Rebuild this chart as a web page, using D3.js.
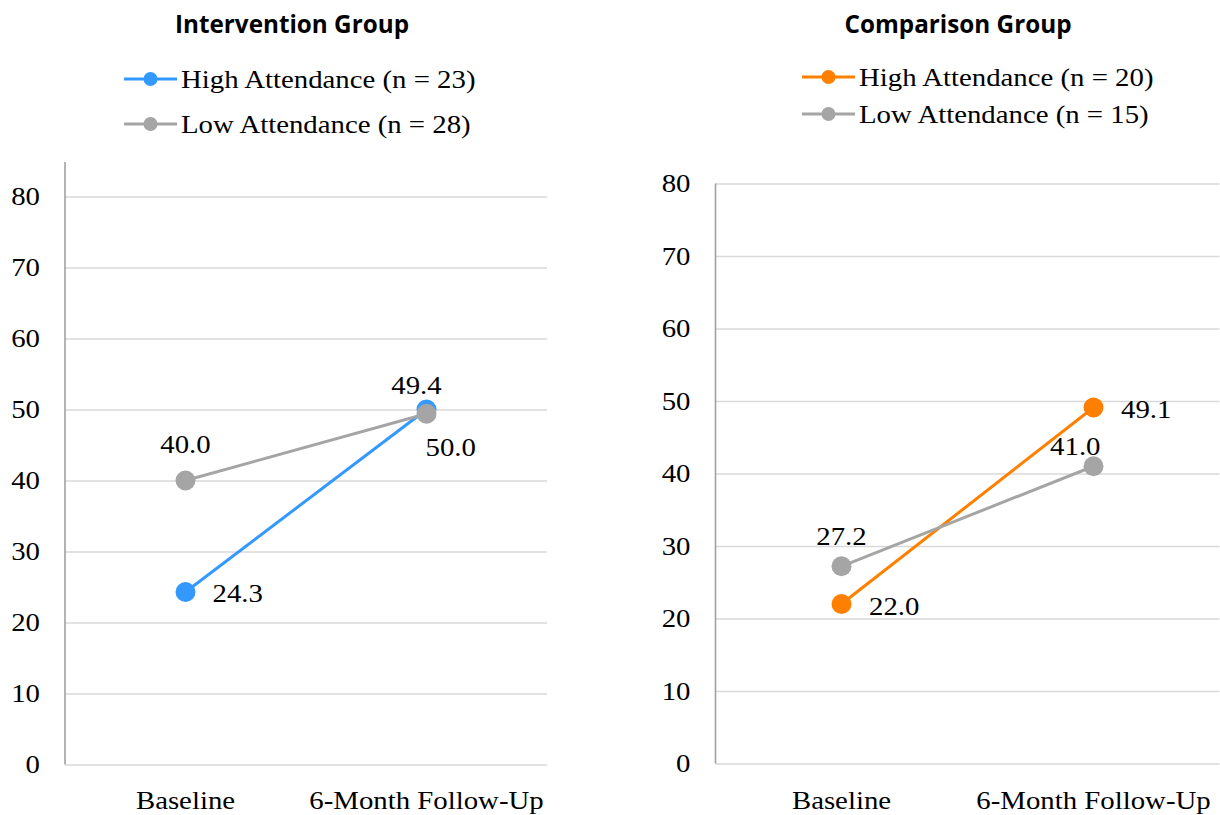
<!DOCTYPE html>
<html>
<head>
<meta charset="utf-8">
<script src="https://cdn.jsdelivr.net/npm/d3@7"></script>
<style>
  html, body { margin: 0; padding: 0; background: #fff; }
  svg { display: block; }
</style>
</head>
<body>
<svg id="chart" width="1220" height="815"></svg>
<script>
// ---------- DATA ----------
const categories = ["Baseline", "6-Month Follow-Up"];
const yTicks = [0, 10, 20, 30, 40, 50, 60, 70, 80];

const interventionTitle = "Intervention Group";
const interventionSeriesNames = ["High Attendance (n = 23)", "Low Attendance (n = 28)"];
const interventionHigh = [24.3, 50.0];
const interventionLow = [40.0, 49.4];

const comparisonTitle = "Comparison Group";
const comparisonSeriesNames = ["High Attendance (n = 20)", "Low Attendance (n = 15)"];
const comparisonHigh = [22.0, 49.1];
const comparisonLow = [27.2, 41.0];

// ---------- STYLE / LAYOUT ----------
const BLUE = "#3399ff", ORANGE = "#ff8000", GRAY = "#a5a5a5";
const GRID = "#d9d9d9", AXIS = "#a0a0a0";
const SERIF = "Liberation Serif, Times New Roman, serif";
const SANS = "Open Sans, Liberation Sans, sans-serif";
const FS = 25.5, SX = 1.13;

const svg = d3.select("#chart");

function stext(g, x, y, str, anchor, opts = {}) {
  return g.append("text")
    .attr("transform", `translate(${x},${y}) scale(${SX},1)`)
    .attr("text-anchor", anchor)
    .style("font-family", SERIF)
    .style("font-size", (opts.size || FS) + "px")
    .attr("dy", opts.dy || 0)
    .attr("fill", "#000")
    .text(str);
}

function drawPanel(cfg) {
  const g = svg.append("g");
  const y = d3.scaleLinear().domain([0, 80]).range([cfg.y0, cfg.y80]);
  const x = d3.scalePoint().domain(categories).range([cfg.xL, cfg.xR]).padding(0.5);

  // gridlines
  const grid = d3.axisLeft(y).tickValues(yTicks).tickSize(-(cfg.xR - cfg.xL)).tickFormat("");
  const gg = g.append("g").attr("transform", `translate(${cfg.xL},0)`).call(grid);
  gg.select(".domain").remove();
  gg.selectAll(".tick line").attr("stroke", GRID).attr("stroke-width", 1.6);

  // vertical axis line
  g.append("line")
    .attr("x1", cfg.xL).attr("x2", cfg.xL)
    .attr("y1", y(0)).attr("y2", cfg.axisTop)
    .attr("stroke", AXIS).attr("stroke-width", 1.6);

  // tick labels
  yTicks.forEach(t => stext(g, cfg.xL - 25, y(t), String(t), "end", { dy: "0.34em" }));

  // category labels
  categories.forEach(c => stext(g, x(c), cfg.catY, c, "middle"));

  // title
  g.append("text")
    .attr("x", cfg.titleX).attr("y", cfg.titleY)
    .attr("text-anchor", "middle")
    .style("font-family", SANS).style("font-weight", 700).style("font-size", "25px")
    .attr("textLength", cfg.titleW).attr("lengthAdjust", "spacingAndGlyphs")
    .text(cfg.title);

  // series
  const line = d3.line().x((d, i) => x(categories[i])).y(d => y(d));
  cfg.series.forEach(s => {
    g.append("path").datum(s.values)
      .attr("d", line).attr("fill", "none")
      .attr("stroke", s.color).attr("stroke-width", 3);
    g.selectAll(null).data(s.values).enter().append("circle")
      .attr("cx", (d, i) => x(categories[i])).attr("cy", d => y(d))
      .attr("r", 10).attr("fill", s.color);
  });
  // data labels
  cfg.series.forEach(s => {
    s.values.forEach((v, i) => {
      const o = s.labels[i];
      stext(g, x(categories[i]) + o.dx, y(v) + o.dy, v.toFixed(1), o.anchor);
    });
  });

  // legend
  cfg.series.forEach((s, i) => {
    const ly = cfg.legendY[i];
    g.append("line").attr("x1", cfg.legendX).attr("x2", cfg.legendX + 53)
      .attr("y1", ly).attr("y2", ly).attr("stroke", s.color).attr("stroke-width", 3);
    g.append("circle").attr("cx", cfg.legendX + 26.5).attr("cy", ly).attr("r", 7).attr("fill", s.color);
    stext(g, cfg.legendX + 57, ly, s.name, "start", { dy: "0.34em" });
  });
}

drawPanel({
  title: interventionTitle, titleX: 292, titleY: 33, titleW: 234,
  xL: 65, xR: 547, y0: 764.5, y80: 196.5, axisTop: 162, catY: 809,
  legendX: 124, legendY: [79, 124],
  series: [
    { name: interventionSeriesNames[0], values: interventionHigh, color: BLUE,
      labels: [{ dx: 27, dy: 10, anchor: "start" }, { dx: -1, dy: 46, anchor: "start" }] },
    { name: interventionSeriesNames[1], values: interventionLow, color: GRAY,
      labels: [{ dx: 0, dy: -27.5, anchor: "middle" }, { dx: -10, dy: -19.5, anchor: "middle" }] }
  ]
});

drawPanel({
  title: comparisonTitle, titleX: 958, titleY: 33, titleW: 227,
  xL: 715.5, xR: 1219.5, y0: 763.5, y80: 183.5, axisTop: 183.5, catY: 809,
  legendX: 802, legendY: [77, 114],
  series: [
    { name: comparisonSeriesNames[0], values: comparisonHigh, color: ORANGE,
      labels: [{ dx: 27.5, dy: 11, anchor: "start" }, { dx: 27.5, dy: 10, anchor: "start" }] },
    { name: comparisonSeriesNames[1], values: comparisonLow, color: GRAY,
      labels: [{ dx: 0, dy: -21, anchor: "middle" }, { dx: 7, dy: -11, anchor: "end" }] }
  ]
});
</script>
</body>
</html>
